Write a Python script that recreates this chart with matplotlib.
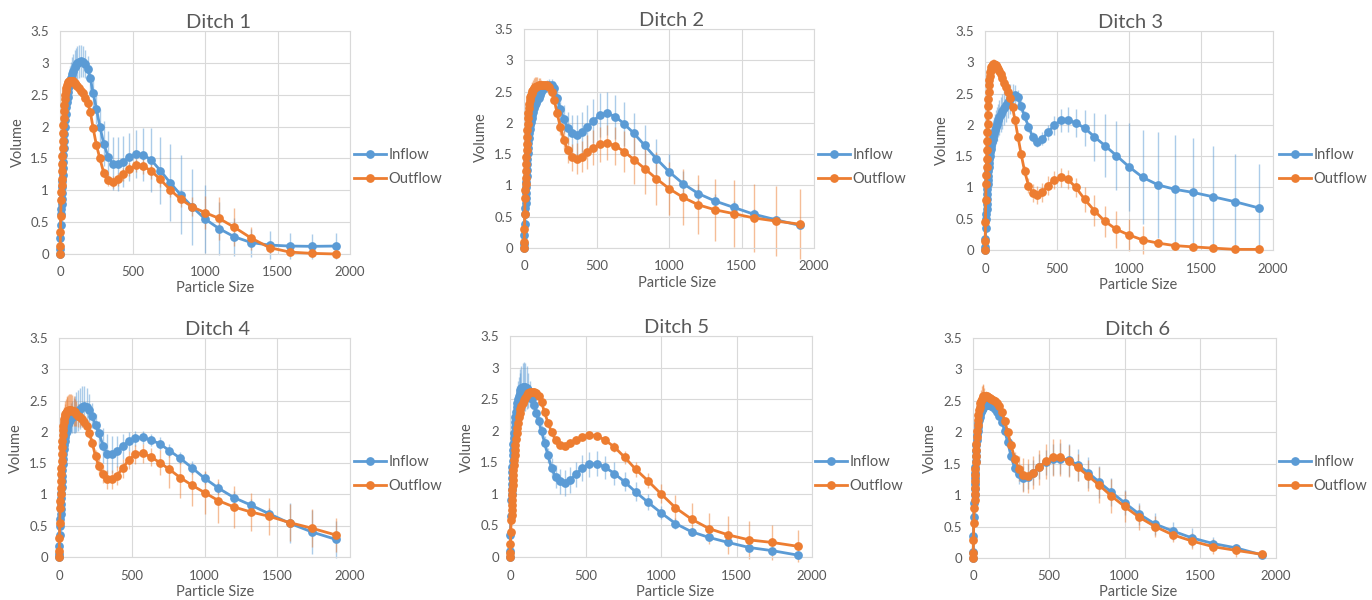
import matplotlib
matplotlib.use("Agg")
import matplotlib.pyplot as plt

plt.rcParams['font.family'] = ['Lato', 'DejaVu Sans']

# particle size classes (µm)
sizes = [0.5, 1.5, 3.0, 5.0, 7.5, 10, 11, 12, 13.2, 14.5, 15.8, 17.4, 19.1, 20.9, 22.9,
         25.1, 27.5, 30.2, 33.1, 36.3, 39.8, 43.7, 47.9, 52.5, 57.5, 63.1, 69.2, 75.9, 83.2,
         91.2, 100, 110, 120, 132, 145, 158, 174, 191, 209, 229, 251, 275, 302, 331, 363, 398,
         437, 479, 525, 575, 631, 692, 759, 832, 912, 1000, 1096, 1202, 1318, 1445, 1585,
         1738, 1905]

titles = ["Ditch 1", "Ditch 2", "Ditch 3", "Ditch 4", "Ditch 5", "Ditch 6"]
series_names = ["Inflow", "Outflow"]

# --- Ditch 1 ---
ditch1_in = [0.0, 0.08, 0.25, 0.45, 0.62,
             0.7, 0.78, 0.86, 0.95, 1.05, 1.14, 1.24, 1.35, 1.45, 1.56,
             1.67, 1.78, 1.89, 2.0, 2.1, 2.2, 2.3, 2.39, 2.47, 2.55,
             2.63, 2.7, 2.77, 2.83, 2.88, 2.93, 2.97, 3.0, 3.02, 3.03,
             3.02, 2.98, 2.9, 2.76, 2.52, 2.28, 2.0, 1.73, 1.53, 1.42,
             1.41, 1.45, 1.52, 1.57, 1.56, 1.47, 1.31, 1.12, 0.93, 0.74,
             0.55, 0.40, 0.27, 0.18, 0.14, 0.125, 0.12, 0.125]
ditch1_in_err = [0.02, 0.05, 0.08, 0.1, 0.12,
                 0.12, 0.13, 0.13, 0.14, 0.14, 0.15, 0.15, 0.16, 0.16, 0.17,
                 0.17, 0.18, 0.18, 0.19, 0.2, 0.2, 0.21, 0.22, 0.22, 0.23,
                 0.24, 0.25, 0.25, 0.26, 0.26, 0.27, 0.27, 0.27, 0.26, 0.25,
                 0.24, 0.22, 0.2, 0.2, 0.22, 0.24, 0.28, 0.35, 0.4, 0.42,
                 0.42, 0.4, 0.38, 0.38, 0.42, 0.5, 0.52, 0.6, 0.62, 0.6,
                 0.53, 0.42, 0.3, 0.22, 0.22, 0.2, 0.2, 0.2]
ditch1_out = [0.0, 0.12, 0.35, 0.6, 0.85,
              0.98, 1.08, 1.18, 1.3, 1.42, 1.54, 1.66, 1.78, 1.9, 2.02,
              2.13, 2.24, 2.34, 2.43, 2.5, 2.56, 2.61, 2.65, 2.68, 2.7,
              2.71, 2.72, 2.72, 2.72, 2.71, 2.69, 2.66, 2.63, 2.6, 2.56,
              2.52, 2.45, 2.37, 2.23, 1.97, 1.71, 1.5, 1.27, 1.16, 1.13,
              1.17, 1.25, 1.33, 1.39, 1.38, 1.3, 1.17, 1.01, 0.86, 0.74,
              0.65, 0.56, 0.42, 0.25, 0.1, 0.03, 0.01, 0.0]
ditch1_out_err = [0.01, 0.03, 0.05, 0.05, 0.05,
                  0.05, 0.05, 0.05, 0.05, 0.05, 0.05, 0.05, 0.05, 0.05, 0.05,
                  0.05, 0.05, 0.05, 0.05, 0.05, 0.05, 0.05, 0.05, 0.05, 0.05,
                  0.05, 0.05, 0.05, 0.05, 0.05, 0.05, 0.05, 0.05, 0.05, 0.05,
                  0.05, 0.05, 0.05, 0.05, 0.05, 0.05, 0.06, 0.08, 0.1, 0.1,
                  0.1, 0.1, 0.1, 0.1, 0.12, 0.12, 0.12, 0.12, 0.12, 0.15,
                  0.26, 0.34, 0.3, 0.18, 0.08, 0.05, 0.03, 0.02]

# --- Ditch 2 ---
ditch2_in = [0.0, 0.06, 0.2, 0.38, 0.55,
             0.64, 0.72, 0.8, 0.88, 0.97, 1.06, 1.15, 1.25, 1.34, 1.43,
             1.52, 1.6, 1.68, 1.76, 1.83, 1.9, 1.96, 2.02, 2.08, 2.13,
             2.18, 2.23, 2.28, 2.32, 2.36, 2.4, 2.45, 2.5, 2.54, 2.57,
             2.59, 2.6, 2.6, 2.55, 2.4, 2.22, 2.06, 1.92, 1.83, 1.8,
             1.85, 1.93, 2.03, 2.13, 2.15, 2.1, 1.98, 1.83, 1.64, 1.43,
             1.22, 1.03, 0.87, 0.75, 0.65, 0.54, 0.45, 0.36]
ditch2_in_err = [0.01, 0.02, 0.04, 0.05, 0.05,
                 0.05, 0.05, 0.05, 0.05, 0.05, 0.05, 0.05, 0.05, 0.05, 0.05,
                 0.05, 0.05, 0.05, 0.05, 0.05, 0.05, 0.05, 0.05, 0.05, 0.05,
                 0.06, 0.06, 0.07, 0.07, 0.08, 0.08, 0.09, 0.09, 0.1, 0.1,
                 0.1, 0.1, 0.1, 0.12, 0.15, 0.2, 0.22, 0.25, 0.3, 0.32,
                 0.33, 0.35, 0.35, 0.35, 0.35, 0.35, 0.35, 0.33, 0.33, 0.32,
                 0.28, 0.2, 0.15, 0.12, 0.1, 0.08, 0.06, 0.05]
ditch2_out = [0.0, 0.1, 0.3, 0.55, 0.8,
              0.92, 1.02, 1.12, 1.23, 1.34, 1.45, 1.56, 1.67, 1.78, 1.88,
              1.98, 2.07, 2.15, 2.23, 2.3, 2.36, 2.41, 2.45, 2.48, 2.51,
              2.53, 2.55, 2.57, 2.58, 2.59, 2.6, 2.61, 2.61, 2.61, 2.61,
              2.6, 2.57, 2.5, 2.36, 2.15, 1.93, 1.73, 1.56, 1.45, 1.43,
              1.46, 1.53, 1.6, 1.66, 1.68, 1.63, 1.54, 1.41, 1.27, 1.11,
              0.95, 0.81, 0.69, 0.61, 0.55, 0.48, 0.43, 0.38]
ditch2_out_err = [0.01, 0.03, 0.05, 0.06, 0.07,
                  0.08, 0.08, 0.08, 0.08, 0.08, 0.08, 0.08, 0.08, 0.08, 0.08,
                  0.08, 0.08, 0.1, 0.1, 0.12, 0.12, 0.13, 0.14, 0.15, 0.15,
                  0.16, 0.17, 0.17, 0.16, 0.14, 0.12, 0.1, 0.08, 0.06, 0.05,
                  0.05, 0.05, 0.05, 0.06, 0.08, 0.12, 0.15, 0.2, 0.22, 0.25,
                  0.25, 0.27, 0.28, 0.28, 0.28, 0.3, 0.33, 0.38, 0.4, 0.42,
                  0.43, 0.45, 0.47, 0.5, 0.53, 0.55, 0.56, 0.56]

# --- Ditch 3 ---
ditch3_in = [0.0, 0.05, 0.18, 0.35, 0.5,
             0.58, 0.66, 0.74, 0.82, 0.9, 0.98, 1.05, 1.12, 1.19, 1.26,
             1.33, 1.39, 1.45, 1.51, 1.57, 1.62, 1.67, 1.72, 1.77, 1.82,
             1.87, 1.92, 1.97, 2.02, 2.07, 2.12, 2.17, 2.22, 2.27, 2.32,
             2.37, 2.42, 2.46, 2.48, 2.44, 2.3, 2.14, 1.97, 1.81, 1.73,
             1.78, 1.88, 1.99, 2.07, 2.08, 2.03, 1.95, 1.81, 1.67, 1.51,
             1.33, 1.16, 1.04, 0.97, 0.92, 0.85, 0.77, 0.67]
ditch3_in_err = [0.02, 0.04, 0.06, 0.08, 0.1,
                 0.1, 0.1, 0.12, 0.12, 0.14, 0.14, 0.16, 0.16, 0.18, 0.18,
                 0.2, 0.2, 0.2, 0.22, 0.22, 0.22, 0.24, 0.24, 0.25, 0.25,
                 0.25, 0.26, 0.26, 0.27, 0.27, 0.28, 0.28, 0.28, 0.28, 0.27,
                 0.26, 0.24, 0.2, 0.15, 0.12, 0.1, 0.08, 0.08, 0.08, 0.08,
                 0.1, 0.12, 0.15, 0.18, 0.2, 0.22, 0.28, 0.38, 0.5, 0.55,
                 0.7, 0.75, 0.85, 0.87, 0.87, 0.82, 0.77, 0.7]
ditch3_out = [0.0, 0.15, 0.45, 0.8, 1.05,
              1.2, 1.33, 1.46, 1.6, 1.74, 1.88, 2.02, 2.16, 2.3, 2.42,
              2.53, 2.63, 2.71, 2.78, 2.84, 2.88, 2.92, 2.94, 2.96, 2.97,
              2.97, 2.96, 2.95, 2.93, 2.9, 2.86, 2.81, 2.75, 2.67, 2.6,
              2.52, 2.43, 2.28, 2.07, 1.81, 1.53, 1.26, 1.03, 0.91, 0.88,
              0.92, 1.03, 1.12, 1.16, 1.13, 1.0, 0.81, 0.63, 0.46, 0.33,
              0.24, 0.16, 0.11, 0.07, 0.05, 0.03, 0.01, 0.01]
ditch3_out_err = [0.01, 0.02, 0.04, 0.05, 0.05,
                  0.05, 0.05, 0.05, 0.05, 0.05, 0.05, 0.05, 0.05, 0.05, 0.05,
                  0.05, 0.05, 0.05, 0.06, 0.06, 0.07, 0.08, 0.08, 0.08, 0.08,
                  0.08, 0.07, 0.06, 0.05, 0.05, 0.05, 0.05, 0.05, 0.05, 0.05,
                  0.05, 0.05, 0.05, 0.05, 0.05, 0.05, 0.08, 0.12, 0.15, 0.15,
                  0.15, 0.15, 0.15, 0.15, 0.15, 0.15, 0.2, 0.25, 0.25, 0.3,
                  0.26, 0.22, 0.05, 0.03, 0.02, 0.01, 0.01, 0.01]

# --- Ditch 4 ---
ditch4_in = [0.0, 0.05, 0.18, 0.35, 0.5,
             0.6, 0.68, 0.76, 0.85, 0.94, 1.03, 1.12, 1.21, 1.3, 1.39,
             1.48, 1.56, 1.64, 1.72, 1.79, 1.86, 1.92, 1.98, 2.03, 2.08,
             2.12, 2.16, 2.19, 2.22, 2.24, 2.26, 2.28, 2.31, 2.34, 2.37,
             2.4, 2.41, 2.4, 2.35, 2.26, 2.11, 1.98, 1.78, 1.65, 1.64,
             1.69, 1.77, 1.85, 1.9, 1.91, 1.87, 1.81, 1.70, 1.58, 1.43,
             1.26, 1.10, 0.95, 0.83, 0.69, 0.54, 0.40, 0.28]
ditch4_in_err = [0.01, 0.02, 0.04, 0.05, 0.06,
                 0.06, 0.07, 0.07, 0.08, 0.08, 0.09, 0.09, 0.1, 0.1, 0.1,
                 0.1, 0.1, 0.11, 0.12, 0.13, 0.14, 0.15, 0.16, 0.17, 0.18,
                 0.19, 0.2, 0.22, 0.24, 0.26, 0.28, 0.3, 0.32, 0.33, 0.33,
                 0.33, 0.32, 0.3, 0.25, 0.2, 0.18, 0.2, 0.28, 0.32, 0.3,
                 0.25, 0.2, 0.15, 0.12, 0.1, 0.1, 0.1, 0.1, 0.1, 0.1,
                 0.1, 0.1, 0.1, 0.1, 0.1, 0.32, 0.35, 0.3]
ditch4_out = [0.0, 0.1, 0.3, 0.55, 0.78,
              0.9, 1.0, 1.1, 1.21, 1.32, 1.43, 1.54, 1.65, 1.76, 1.86,
              1.95, 2.03, 2.1, 2.16, 2.21, 2.25, 2.28, 2.3, 2.32, 2.33,
              2.34, 2.35, 2.35, 2.35, 2.34, 2.33, 2.31, 2.29, 2.26, 2.23,
              2.2, 2.16, 2.1, 1.98, 1.82, 1.61, 1.45, 1.33, 1.24, 1.24,
              1.3, 1.42, 1.55, 1.64, 1.66, 1.6, 1.51, 1.40, 1.27, 1.15,
              1.03, 0.90, 0.80, 0.72, 0.65, 0.55, 0.46, 0.35]
ditch4_out_err = [0.01, 0.03, 0.05, 0.06, 0.07,
                  0.08, 0.08, 0.09, 0.09, 0.1, 0.1, 0.11, 0.12, 0.13, 0.14,
                  0.15, 0.16, 0.17, 0.18, 0.19, 0.2, 0.21, 0.22, 0.23, 0.24,
                  0.25, 0.26, 0.26, 0.26, 0.25, 0.24, 0.22, 0.2, 0.18, 0.15,
                  0.12, 0.1, 0.08, 0.08, 0.08, 0.1, 0.12, 0.14, 0.15, 0.15,
                  0.15, 0.15, 0.15, 0.15, 0.15, 0.15, 0.2, 0.3, 0.32, 0.33,
                  0.35, 0.35, 0.33, 0.3, 0.3, 0.3, 0.3, 0.27]

# --- Ditch 5 ---
ditch5_in = [0.0, 0.1, 0.35, 0.65, 0.9,
             1.0, 1.08, 1.16, 1.25, 1.34, 1.43, 1.52, 1.61, 1.7, 1.79,
             1.88, 1.97, 2.06, 2.14, 2.22, 2.3, 2.37, 2.44, 2.5, 2.55,
             2.6, 2.64, 2.67, 2.69, 2.7, 2.7, 2.68, 2.64, 2.58, 2.5,
             2.41, 2.28, 2.15, 1.99, 1.81, 1.61, 1.41, 1.27, 1.2, 1.17,
             1.22, 1.31, 1.41, 1.47, 1.48, 1.42, 1.32, 1.19, 1.03, 0.87,
             0.70, 0.53, 0.40, 0.31, 0.23, 0.15, 0.10, 0.03]
ditch5_in_err = [0.01, 0.03, 0.05, 0.08, 0.1,
                 0.1, 0.11, 0.12, 0.13, 0.14, 0.15, 0.16, 0.17, 0.18, 0.19,
                 0.2, 0.21, 0.22, 0.23, 0.24, 0.25, 0.26, 0.27, 0.28, 0.3,
                 0.32, 0.34, 0.36, 0.38, 0.39, 0.38, 0.34, 0.28, 0.2, 0.15,
                 0.12, 0.1, 0.1, 0.1, 0.1, 0.12, 0.15, 0.18, 0.2, 0.2,
                 0.2, 0.2, 0.2, 0.2, 0.2, 0.18, 0.18, 0.15, 0.15, 0.12,
                 0.1, 0.08, 0.06, 0.05, 0.05, 0.05, 0.04, 0.03]
ditch5_out = [0.0, 0.06, 0.2, 0.4, 0.58,
              0.66, 0.74, 0.82, 0.9, 0.98, 1.06, 1.14, 1.22, 1.3, 1.38,
              1.46, 1.54, 1.62, 1.69, 1.77, 1.87, 1.96, 2.05, 2.13, 2.21,
              2.28, 2.34, 2.39, 2.44, 2.48, 2.52, 2.56, 2.59, 2.61, 2.62,
              2.62, 2.6, 2.55, 2.45, 2.29, 2.13, 1.98, 1.85, 1.77, 1.76,
              1.8, 1.86, 1.9, 1.93, 1.92, 1.85, 1.74, 1.58, 1.39, 1.21,
              1.0, 0.78, 0.6, 0.45, 0.35, 0.27, 0.23, 0.17]
ditch5_out_err = [0.01, 0.02, 0.03, 0.04, 0.05,
                  0.05, 0.05, 0.05, 0.05, 0.05, 0.05, 0.05, 0.05, 0.05, 0.05,
                  0.05, 0.05, 0.05, 0.05, 0.05, 0.05, 0.05, 0.05, 0.05, 0.05,
                  0.05, 0.05, 0.05, 0.05, 0.05, 0.05, 0.05, 0.05, 0.05, 0.05,
                  0.05, 0.05, 0.05, 0.05, 0.05, 0.05, 0.05, 0.05, 0.05, 0.05,
                  0.05, 0.05, 0.05, 0.05, 0.05, 0.06, 0.08, 0.1, 0.12, 0.12,
                  0.15, 0.2, 0.25, 0.25, 0.3, 0.3, 0.28, 0.25]

# --- Ditch 6 ---
ditch6_in = [0.0, 0.1, 0.35, 0.65, 0.88,
             1.0, 1.09, 1.18, 1.27, 1.36, 1.45, 1.54, 1.63, 1.71, 1.79,
             1.87, 1.95, 2.02, 2.09, 2.15, 2.2, 2.25, 2.29, 2.33, 2.36,
             2.39, 2.41, 2.42, 2.43, 2.44, 2.44, 2.43, 2.42, 2.4, 2.37,
             2.33, 2.26, 2.17, 2.02, 1.85, 1.62, 1.43, 1.33, 1.27, 1.29,
             1.36, 1.45, 1.52, 1.57, 1.58, 1.56, 1.48, 1.36, 1.21, 1.05,
             0.88, 0.70, 0.54, 0.43, 0.32, 0.23, 0.16, 0.05]
ditch6_in_err = [0.01, 0.02, 0.04, 0.05, 0.05,
                 0.05, 0.05, 0.05, 0.05, 0.05, 0.05, 0.05, 0.05, 0.05, 0.05,
                 0.05, 0.05, 0.05, 0.05, 0.05, 0.05, 0.05, 0.05, 0.05, 0.05,
                 0.05, 0.05, 0.06, 0.06, 0.06, 0.06, 0.06, 0.06, 0.06, 0.06,
                 0.06, 0.06, 0.06, 0.06, 0.06, 0.08, 0.1, 0.15, 0.2, 0.2,
                 0.2, 0.2, 0.2, 0.25, 0.25, 0.25, 0.25, 0.25, 0.25, 0.22,
                 0.2, 0.18, 0.17, 0.15, 0.15, 0.1, 0.05, 0.03]
ditch6_out = [0.0, 0.08, 0.28, 0.55, 0.8,
              0.92, 1.02, 1.12, 1.22, 1.32, 1.42, 1.52, 1.62, 1.72, 1.82,
              1.92, 2.02, 2.12, 2.2, 2.28, 2.35, 2.41, 2.46, 2.5, 2.53,
              2.55, 2.57, 2.58, 2.58, 2.57, 2.56, 2.55, 2.53, 2.51, 2.49,
              2.46, 2.42, 2.33, 2.18, 2.0, 1.8, 1.58, 1.42, 1.32, 1.31,
              1.36, 1.44, 1.54, 1.6, 1.6, 1.54, 1.44, 1.31, 1.16, 0.99,
              0.82, 0.65, 0.5, 0.37, 0.27, 0.18, 0.12, 0.06]
ditch6_out_err = [0.01, 0.02, 0.04, 0.05, 0.05,
                  0.05, 0.05, 0.05, 0.05, 0.05, 0.05, 0.05, 0.05, 0.05, 0.05,
                  0.06, 0.07, 0.08, 0.09, 0.1, 0.11, 0.13, 0.15, 0.17, 0.2,
                  0.22, 0.18, 0.12, 0.08, 0.06, 0.05, 0.05, 0.05, 0.05, 0.05,
                  0.05, 0.05, 0.05, 0.05, 0.05, 0.08, 0.1, 0.2, 0.27, 0.27,
                  0.27, 0.28, 0.28, 0.3, 0.3, 0.25, 0.22, 0.25, 0.28, 0.27,
                  0.25, 0.2, 0.17, 0.12, 0.12, 0.12, 0.1, 0.05]

inflow = [ditch1_in, ditch2_in, ditch3_in, ditch4_in, ditch5_in, ditch6_in]
inflow_err = [ditch1_in_err, ditch2_in_err, ditch3_in_err,
              ditch4_in_err, ditch5_in_err, ditch6_in_err]
outflow = [ditch1_out, ditch2_out, ditch3_out, ditch4_out, ditch5_out, ditch6_out]
outflow_err = [ditch1_out_err, ditch2_out_err, ditch3_out_err,
               ditch4_out_err, ditch5_out_err, ditch6_out_err]

# panel layout in pixels: plot box (x0, y0, x1, y1), title centre,
# x label centre, y label centre, legend anchor (left x, middle y)
W, H = 1372, 600
layout = [
    dict(box=(60, 31, 350, 254), title=(218, 20), xl=(215, 288), yl=(18, 142), leg=(354, 167)),
    dict(box=(524, 29, 814, 248), title=(672, 19), xl=(677, 283), yl=(481, 137), leg=(818, 167)),
    dict(box=(985, 31, 1273, 250), title=(1131, 20), xl=(1138, 285), yl=(942, 140), leg=(1279, 167)),
    dict(box=(59, 338, 350, 557), title=(218, 327), xl=(215, 592), yl=(16, 448), leg=(354, 474)),
    dict(box=(510, 336, 812, 557), title=(677, 326), xl=(675, 592), yl=(467, 447), leg=(815, 474)),
    dict(box=(973, 338, 1276, 558), title=(1138, 327), xl=(1138, 592), yl=(930, 448), leg=(1279, 474)),
]

blue = "#5B9BD5"
orange = "#ED7D31"
grid_col = "#D9D9D9"
text_col = "#595959"

fig = plt.figure(figsize=(W / 100, H / 100), dpi=100)

for i in range(6):
    lay = layout[i]
    x0, y0, x1, y1 = lay["box"]
    ax = fig.add_axes([x0 / W, 1 - y1 / H, (x1 - x0) / W, (y1 - y0) / H])

    # error bars first, then the line with markers, one series at a time
    for vals, errs, col, name in [(inflow[i], inflow_err[i], blue, series_names[0]),
                                  (outflow[i], outflow_err[i], orange, series_names[1])]:
        ax.errorbar(sizes, vals, yerr=errs, fmt="none", ecolor=col, alpha=0.5,
                    elinewidth=1.0, capsize=0, clip_on=False, zorder=2)
        ax.plot(sizes, vals, color=col, lw=2.0, marker="o", markersize=6.3,
                markeredgewidth=0, label=name, clip_on=False, zorder=3)

    ax.set_xlim(0, 2000)
    ax.set_ylim(0, 3.5)
    ax.set_xticks([0, 500, 1000, 1500, 2000])
    ax.set_yticks([0, 0.5, 1, 1.5, 2, 2.5, 3, 3.5])
    ax.set_yticklabels(["0", "0.5", "1", "1.5", "2", "2.5", "3", "3.5"])
    ax.grid(True, color=grid_col, lw=0.8)
    ax.set_axisbelow(True)
    for sp in ax.spines.values():
        sp.set_color(grid_col)
        sp.set_linewidth(0.8)
    ax.tick_params(length=0, labelsize=9.5, labelcolor=text_col)
    ax.tick_params(axis="x", pad=9)
    ax.tick_params(axis="y", pad=8)

    bw, bh = x1 - x0, y1 - y0
    ax.set_title(titles[i], fontsize=14.5, color=text_col, pad=0)
    ax.title.set_position(((lay["title"][0] - x0) / bw, 0))
    ax.title.set_y((y1 - lay["title"][1]) / bh)
    ax.title.set_va("center")

    ax.set_xlabel("Particle Size", fontsize=10.5, color=text_col)
    ax.xaxis.set_label_coords((lay["xl"][0] - x0) / bw, -(lay["xl"][1] - y1) / bh)
    ax.xaxis.label.set_va("center")
    ax.set_ylabel("Volume", fontsize=10.5, color=text_col)
    ax.yaxis.set_label_coords(-(x0 - lay["yl"][0]) / bw, (y1 - lay["yl"][1]) / bh)
    ax.yaxis.label.set_va("center")

    ax.legend(loc="center left", bbox_to_anchor=(lay["leg"][0] / W, 1 - lay["leg"][1] / H),
              bbox_transform=fig.transFigure, frameon=False, fontsize=10.5,
              labelcolor=text_col, handlelength=2.2, handletextpad=0.15,
              labelspacing=0.65, borderpad=0, borderaxespad=0)

fig.savefig("out.png", dpi=100, facecolor="white")
